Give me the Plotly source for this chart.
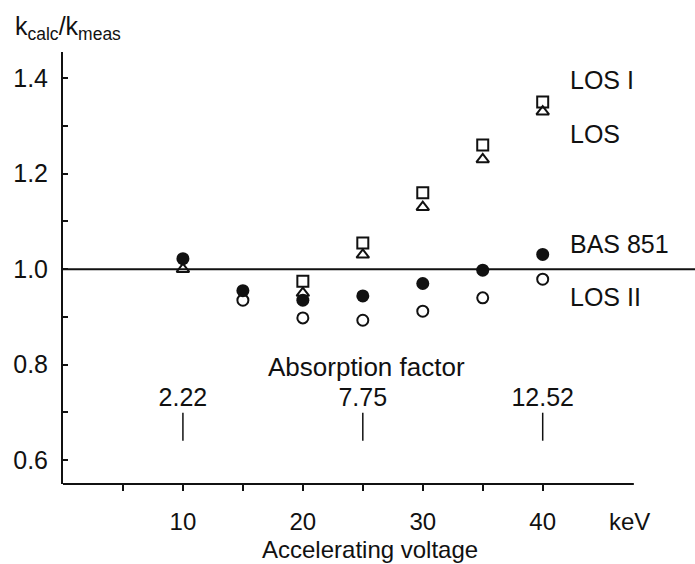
import plotly.graph_objects as go

voltage = [10, 15, 20, 25, 30, 35, 40]
los_i = [None, None, 0.975, 1.055, 1.16, 1.26, 1.35]
los = [1.00, None, 0.95, 1.03, 1.13, 1.23, 1.33]
bas_851 = [1.022, 0.955, 0.935, 0.944, 0.97, 0.998, 1.031]
los_ii = [None, 0.935, 0.898, 0.893, 0.912, 0.94, 0.979]

absorption_voltage = [10, 25, 40]
absorption_factor = ["2.22", "7.75", "12.52"]

x_tickvals = [10, 20, 30, 40]
x_ticktext = ["10", "20", "30", "40"]
x_minor_tickvals = [5, 15, 25, 35]
y_tickvals = [0.6, 0.8, 1.0, 1.2, 1.4]
y_ticktext = ["0.6", "0.8", "1.0", "1.2", "1.4"]
y_minor_tickvals = [0.7, 0.9, 1.1, 1.3]

series_labels = ["LOS I", "LOS", "BAS 851", "LOS II"]
series_label_y = [1.396, 1.283, 1.052, 0.941]

FONT = "Liberation Sans, Arial, Helvetica, sans-serif"
FS = 25
BLACK = "#111111"

fig = go.Figure()

def xy(xs, ys):
    px, py = [], []
    for a, b in zip(xs, ys):
        if b is not None:
            px.append(a)
            py.append(b)
    return px, py

x, y = xy(voltage, los_ii)
fig.add_trace(go.Scatter(x=x, y=y, mode="markers", cliponaxis=False,
                         marker=dict(symbol="circle-open", size=11, color=BLACK, line=dict(width=2, color=BLACK))))
x, y = xy(voltage, los)
fig.add_trace(go.Scatter(x=x, y=y, mode="markers", cliponaxis=False,
                         marker=dict(symbol="triangle-up-open", size=11, color=BLACK, line=dict(width=2, color=BLACK))))
x, y = xy(voltage, los_i)
fig.add_trace(go.Scatter(x=x, y=y, mode="markers", cliponaxis=False,
                         marker=dict(symbol="square-open", size=11, color=BLACK, line=dict(width=2, color=BLACK))))
x, y = xy(voltage, bas_851)
fig.add_trace(go.Scatter(x=x, y=y, mode="markers", cliponaxis=False,
                         marker=dict(symbol="circle", size=13, color=BLACK)))

# absorption factor tick marks and values
fig.add_trace(go.Scatter(x=absorption_voltage, y=[0.67] * len(absorption_voltage), mode="markers",
                         marker=dict(symbol="line-ns-open", size=20, color=BLACK, line=dict(width=1.5, color=BLACK))))
fig.add_trace(go.Scatter(x=absorption_voltage, y=[0.727] * len(absorption_voltage), mode="text",
                         text=absorption_factor, textposition="middle center",
                         textfont=dict(family=FONT, size=FS, color=BLACK)))

# reference line at 1.0
fig.add_shape(type="line", xref="x", yref="y", x0=0, x1=52.7, y0=1.0, y1=1.0,
              line=dict(color=BLACK, width=2))
# bottom axis line
fig.add_shape(type="line", xref="x", yref="paper", x0=0, x1=47.6, y0=0, y1=0,
              line=dict(color=BLACK, width=2))

for lab, ly in zip(series_labels, series_label_y):
    fig.add_annotation(x=42.1, y=ly, xref="x", yref="y", text=lab, showarrow=False,
                       xanchor="left", yanchor="middle", font=dict(family=FONT, size=FS, color=BLACK))

fig.add_annotation(x=25.3, y=0.795, xref="x", yref="y", text="Absorption factor", showarrow=False,
                   xanchor="center", yanchor="middle", font=dict(family=FONT, size=26, color=BLACK))
fig.add_annotation(x=47.2, y=-0.086, xref="x", yref="paper", text="keV", showarrow=False,
                   xanchor="center", yanchor="middle", font=dict(family=FONT, size=24, color=BLACK))
fig.add_annotation(x=25.6, y=0, xref="x", yref="paper", text="Accelerating voltage", showarrow=False,
                   xanchor="center", yanchor="bottom", yshift=-80, borderpad=0,
                   font=dict(family=FONT, size=24, color=BLACK))
fig.add_annotation(x=-0.079, y=1.056, xref="paper", yref="paper", text="k<sub>calc</sub>/k<sub>meas</sub>",
                   showarrow=False, xanchor="left", yanchor="middle",
                   font=dict(family=FONT, size=FS, color=BLACK))

fig.update_layout(
    width=695, height=564,
    margin=dict(l=63, r=0, t=52, b=80),
    paper_bgcolor="white", plot_bgcolor="white",
    showlegend=False,
    xaxis=dict(range=[0, 52.7], showline=False, showgrid=False, zeroline=False,
               tickvals=x_tickvals, ticktext=x_ticktext, ticks="outside", ticklen=6,
               tickwidth=1.5, tickcolor=BLACK, ticklabelstandoff=10,
               tickfont=dict(family=FONT, size=24, color=BLACK),
               minor=dict(tickvals=x_minor_tickvals, ticks="outside", ticklen=6,
                          tickwidth=1.5, tickcolor=BLACK, showgrid=False)),
    yaxis=dict(range=[0.55, 1.455], showline=True, linecolor=BLACK, linewidth=2,
               showgrid=False, zeroline=False, tickvals=y_tickvals, ticktext=y_ticktext,
               ticks="inside", ticklen=5, tickwidth=1.5, tickcolor=BLACK, ticklabelstandoff=8,
               tickfont=dict(family=FONT, size=FS, color=BLACK),
               minor=dict(tickvals=y_minor_tickvals, ticks="inside", ticklen=5,
                          tickwidth=1.5, tickcolor=BLACK, showgrid=False)),
)

fig.write_html("out.html")
